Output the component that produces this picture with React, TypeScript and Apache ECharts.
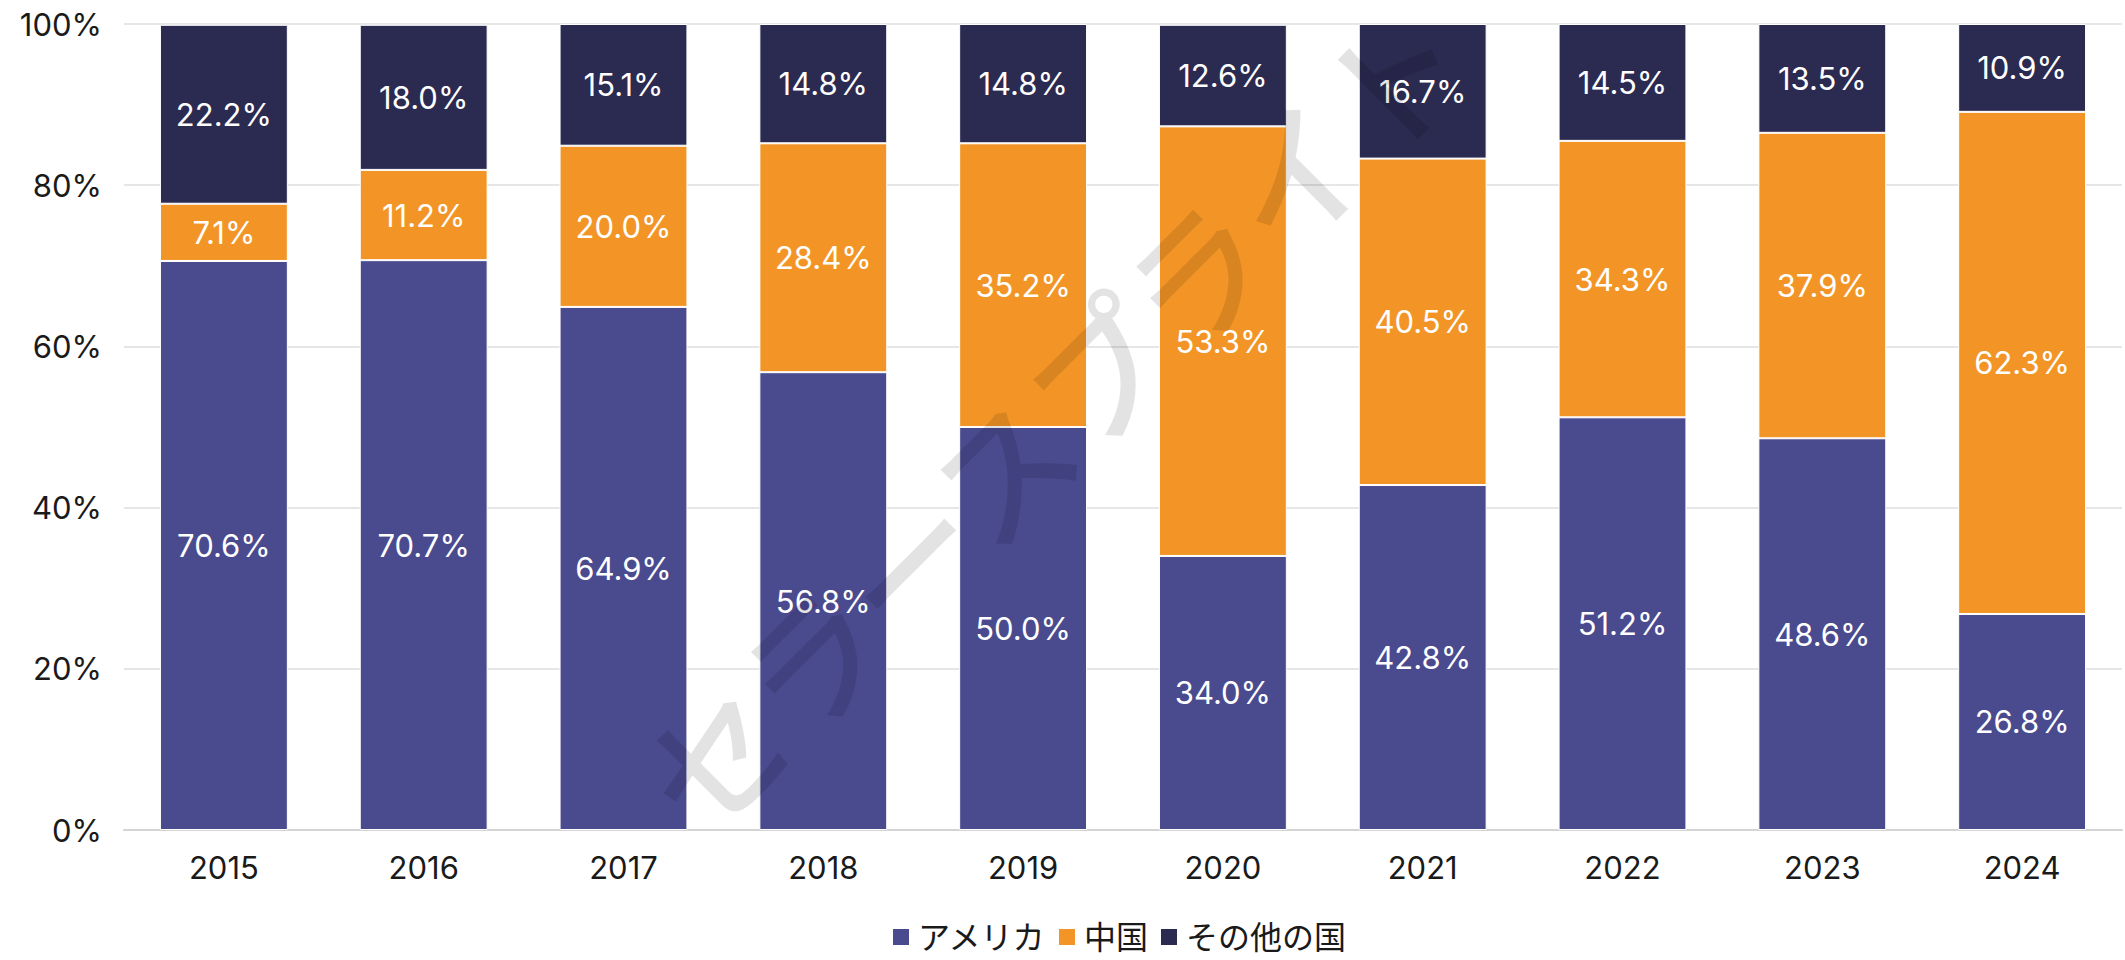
import React, { useEffect, useRef } from "react";
import * as echarts from "echarts";

const years = ["2015", "2016", "2017", "2018", "2019", "2020", "2021", "2022", "2023", "2024"];
const usa = [70.6, 70.7, 64.9, 56.8, 50.0, 34.0, 42.8, 51.2, 48.6, 26.8];
const china = [7.1, 11.2, 20.0, 28.4, 35.2, 53.3, 40.5, 34.3, 37.9, 62.3];
const others = [22.2, 18.0, 15.1, 14.8, 14.8, 12.6, 16.7, 14.5, 13.5, 10.9];
const seriesNames = ["アメリカ", "中国", "その他の国"];
const colors = ["#4A4A8F", "#F29526", "#2B2A50"];
const watermark = "セラースプライト";

const FONT = "Inter, 'Noto Sans CJK JP', sans-serif";

export default function App() {
  const ref = useRef<HTMLDivElement>(null);
  useEffect(() => {
    document.body.style.margin = "0";
    const chart = echarts.init(ref.current!, null, { renderer: "svg" });
    const mk = (name: string, data: number[], color: string) => ({
      name,
      type: "bar",
      stack: "total",
      data,
      barWidth: "64%",
      itemStyle: { color, borderColor: "#ffffff", borderWidth: 1 },
      label: {
        show: true,
        position: "inside",
        color: "#ffffff",
        fontSize: 31,
        fontFamily: FONT,
        formatter: (p: any) => `${Number(p.value).toFixed(1)}%`,
      },
    });
    chart.setOption({
      animation: false,
      textStyle: { fontFamily: FONT },
      grid: { left: 124, right: 3, top: 24, bottom: 130, containLabel: false },
      legend: {
        bottom: 2,
        left: 886,
        itemWidth: 18,
        itemHeight: 18,
        itemGap: 11,
        icon: "rect",
        textStyle: { fontSize: 32, color: "#1a1a1a", fontFamily: FONT, padding: [0, 0, 0, 3] },
        data: seriesNames,
      },
      xAxis: {
        type: "category",
        data: years,
        axisTick: { show: false },
        axisLine: { lineStyle: { color: "#d4d4d4", width: 2 } },
        axisLabel: { fontSize: 31, color: "#1a1a1a", margin: 22, fontFamily: FONT },
      },
      yAxis: {
        type: "value",
        min: 0,
        max: 100,
        interval: 20,
        axisLabel: { formatter: "{value}%", fontSize: 31, color: "#1a1a1a", margin: 22, fontFamily: FONT },
        splitLine: { lineStyle: { color: "#e6e6e6", width: 2 } },
      },
      series: [mk(seriesNames[0], usa, colors[0]), mk(seriesNames[1], china, colors[1]), mk(seriesNames[2], others, colors[2])],
      graphic: [
        {
          type: "text",
          x: 1050,
          y: 415,
          rotation: Math.PI / 4,
          z: 100,
          silent: true,
          style: {
            text: watermark,
            font: "500 138px 'Noto Sans CJK JP', sans-serif",
            fill: "rgba(0,0,0,0.11)",
            align: "center",
            verticalAlign: "middle",
          },
        },
      ],
    });
    return () => chart.dispose();
  }, []);
  return <div ref={ref} style={{ width: 2125, height: 960 }} />;
}
